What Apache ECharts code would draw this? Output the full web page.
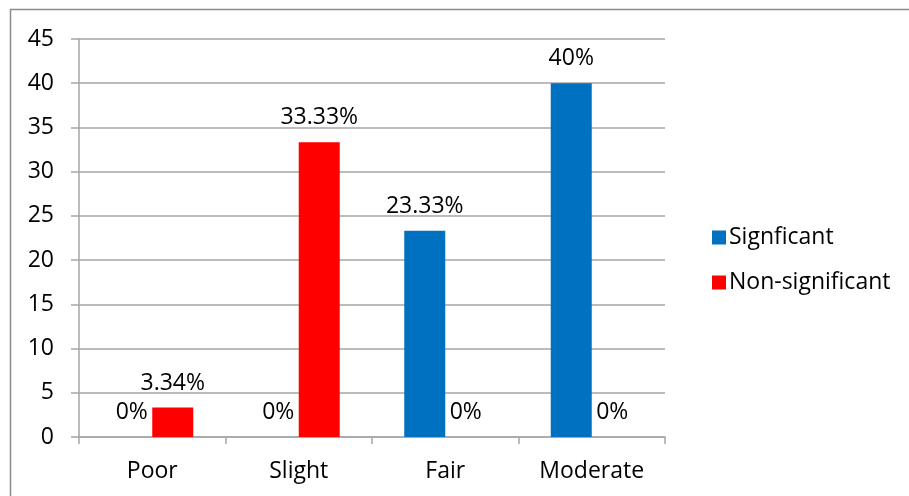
<!DOCTYPE html>
<html>
<head>
<meta charset="utf-8">
<script src="https://cdn.jsdelivr.net/npm/echarts@6/dist/echarts.min.js"></script>
<style>
  html, body { margin: 0; padding: 0; background: #fff; }
  #chart { width: 909px; height: 496px; }
</style>
</head>
<body>
<div id="chart"></div>
<script>
// Agreement levels and the share of cases in each group (%)
const categories = ['Poor', 'Slight', 'Fair', 'Moderate'];
const significant = [0, 0, 23.33, 40];
const nonSignificant = [3.34, 33.33, 0, 0];
const yTicks = [0, 5, 10, 15, 20, 25, 30, 35, 40, 45];

const FONT = '"Open Sans", "Liberation Sans", sans-serif';
const FONT_SIZE = 23;
const GRID_COLOR = '#a6a6a6';

const pctLabel = {
  show: true,
  position: 'top',
  distance: 13,
  color: '#000',
  fontFamily: FONT,
  fontSize: FONT_SIZE,
  formatter: p => p.value + '%'
};

const chart = echarts.init(document.getElementById('chart'));
chart.setOption({
  animation: false,
  graphic: [{
    type: 'rect',
    shape: { x: 10.5, y: 9.5, width: 920, height: 520 },
    style: { fill: 'none', stroke: '#8c8c8c', lineWidth: 1.5 },
    silent: true
  }],
  grid: { left: 79, top: 39, width: 586, height: 398, containLabel: false },
  legend: {
    orient: 'vertical',
    left: 707,
    top: 221,
    itemWidth: 14,
    itemHeight: 14,
    itemGap: 22,
    icon: 'rect',
    textStyle: { fontFamily: FONT, fontSize: FONT_SIZE, color: '#000', padding: [0, 0, 0, -2] },
    data: ['Signficant', 'Non-significant']
  },
  xAxis: {
    type: 'category',
    data: categories,
    axisLine: { lineStyle: { color: GRID_COLOR, width: 1.5 } },
    axisTick: { show: true, length: 7, alignWithLabel: false, lineStyle: { color: GRID_COLOR, width: 1.5 } },
    axisLabel: { color: '#000', fontFamily: FONT, fontSize: FONT_SIZE, margin: 23 }
  },
  yAxis: {
    type: 'value',
    min: yTicks[0],
    max: yTicks[yTicks.length - 1],
    interval: yTicks[1] - yTicks[0],
    axisLine: { show: true, lineStyle: { color: GRID_COLOR, width: 1.5 } },
    axisTick: { show: true, length: 8, lineStyle: { color: GRID_COLOR, width: 1.5 } },
    splitLine: { lineStyle: { color: GRID_COLOR, width: 1.5 } },
    axisLabel: { color: '#000', fontFamily: FONT, fontSize: FONT_SIZE, margin: 25 }
  },
  series: [
    {
      name: 'Signficant',
      type: 'bar',
      data: significant,
      barWidth: 41,
      barGap: '0%',
      itemStyle: { color: '#0070c0' },
      label: pctLabel
    },
    {
      name: 'Non-significant',
      type: 'bar',
      data: nonSignificant,
      barWidth: 41,
      barGap: '0%',
      itemStyle: { color: '#ff0000' },
      label: pctLabel
    }
  ]
});
</script>
</body>
</html>
